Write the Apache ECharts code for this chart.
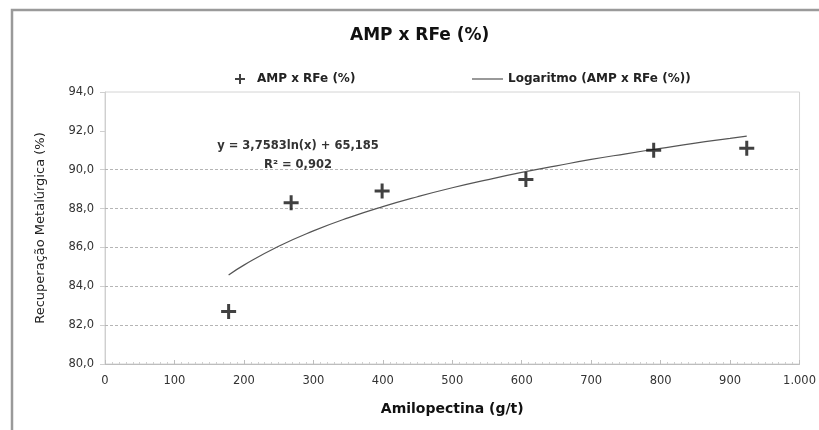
<!DOCTYPE html>
<html>
<head>
<meta charset="utf-8">
<script src="https://cdn.jsdelivr.net/npm/echarts@6/dist/echarts.min.js"></script>
<style>
html,body{margin:0;padding:0;background:#fff;}
#chart{width:819px;height:430px;}
</style>
</head>
<body>
<div id="chart"></div>
<script>
// Measured points (Amilopectina g/t, Recuperação %)
const ampX = [178, 268, 399, 606, 790, 924];
const rfeY = [82.7, 88.3, 88.9, 89.5, 91.0, 91.1];
// Trend line
const trendX = [178, 200, 250, 300, 350, 400, 450, 500, 550, 600, 650, 700, 750, 800, 850, 900, 924];
const trendY = [84.58, 85.09, 86.06, 86.85, 87.52, 88.10, 88.61, 89.07, 89.48, 89.86, 90.20, 90.53, 90.82, 91.10, 91.37, 91.61, 91.73];
const gridValues = [82, 84, 86, 88, 90];
const seriesNames = ['AMP x RFe (%)', 'Logaritmo (AMP x RFe (%))'];
const titleText = 'AMP x RFe (%)';
const equationText = 'y = 3,7583ln(x) + 65,185';
const r2Text = 'R² = 0,902';
const xName = 'Amilopectina (g/t)';
const yName = 'Recuperação Metalúrgica (%)';

const plusPath = 'path://M4,0H6V4H10V6H6V10H4V6H0V4H4Z';
const FONT = '"DejaVu Sans", "Liberation Sans", Arial, sans-serif';

const chart = echarts.init(document.getElementById('chart'), null, {renderer: 'canvas'});
chart.setOption({
  animation: false,
  backgroundColor: '#fff',
  title: {
    text: titleText,
    left: 345, top: 22,
    textStyle: {fontFamily: FONT, fontSize: 17, fontWeight: 'bold', color: '#111'}
  },
  legend: [
    {
      data: [{name: seriesNames[0], icon: plusPath}],
      left: 230, top: 68,
      itemWidth: 10, itemHeight: 10,
      textStyle: {fontFamily: FONT, fontSize: 12, fontWeight: 'bold', color: '#222', padding: [0,0,0,7]}
    },
    {
      data: [{name: seriesNames[1], icon: 'rect'}],
      left: 467, top: 68,
      itemWidth: 31, itemHeight: 1.2,
      textStyle: {fontFamily: FONT, fontSize: 12, fontWeight: 'bold', color: '#222'}
    }
  ],
  grid: {
    left: 105, right: 16, top: 92, bottom: 66,
    show: true, borderColor: '#d4d4d4', borderWidth: 1, backgroundColor: '#fff'
  },
  xAxis: {
    type: 'value', min: 0, max: 1000, interval: 100,
    name: xName, nameLocation: 'middle', nameGap: 38,
    nameTextStyle: {fontFamily: FONT, fontSize: 14, fontWeight: 'bold', color: '#111'},
    axisLine: {show: true, lineStyle: {color: '#bdbdbd', width: 1}},
    axisTick: {show: true, inside: true, length: 4, lineStyle: {color: '#bdbdbd'}},
    minorTick: {show: true, splitNumber: 10, length: 2, lineStyle: {color: '#cfcfcf'}},
    splitLine: {show: false},
    axisLabel: {
      fontFamily: FONT, fontSize: 11.5, color: '#333', margin: 11,
      formatter: v => v >= 1000 ? String(v).replace(/\B(?=(\d{3})+(?!\d))/g, '.') : String(v)
    }
  },
  yAxis: {
    type: 'value', min: 80, max: 94, interval: 2,
    name: yName, nameLocation: 'middle', nameGap: 58,
    nameTextStyle: {fontFamily: FONT, fontSize: 13, color: '#222'},
    axisLine: {show: true, lineStyle: {color: '#cfcfcf', width: 1}},
    axisTick: {show: true, inside: false, length: 5, lineStyle: {color: '#cfcfcf'}},
    splitLine: {show: false},
    axisLabel: {
      fontFamily: FONT, fontSize: 11.5, color: '#333', margin: 11,
      formatter: v => v.toFixed(1).replace('.', ',')
    }
  },
  graphic: [
    {
      type: 'rect', silent: true, z: 100,
      shape: {x: 12, y: 10, width: 860, height: 460},
      style: {fill: 'none', stroke: '#9a9a9a', lineWidth: 2.5}
    },
    {
      type: 'text', silent: true, z: 100,
      x: 298, y: 146,
      style: {text: equationText, font: 'bold 11.5px ' + FONT, fill: '#333', align: 'center', verticalAlign: 'middle'}
    },
    {
      type: 'text', silent: true, z: 100,
      x: 298, y: 165,
      style: {text: r2Text, font: 'bold 11.5px ' + FONT, fill: '#333', align: 'center', verticalAlign: 'middle'}
    }
  ],
  series: [
    {
      name: seriesNames[0],
      type: 'scatter',
      data: ampX.map((x, i) => [x, rfeY[i]]),
      symbol: plusPath,
      symbolSize: 15,
      itemStyle: {color: '#111'},
      z: 5
    },
    {
      name: seriesNames[1],
      type: 'line',
      data: trendX.map((x, i) => [x, trendY[i]]),
      showSymbol: false,
      smooth: true,
      lineStyle: {color: '#555', width: 1.2},
      itemStyle: {color: '#555'},
      z: 4,
      markLine: {
        silent: true,
        symbol: 'none',
        label: {show: false},
        lineStyle: {color: '#b5b5b5', type: [3, 2], width: 1},
        data: gridValues.map(v => ({yAxis: v})),
        z: 1
      }
    }
  ]
});
</script>
</body>
</html>
